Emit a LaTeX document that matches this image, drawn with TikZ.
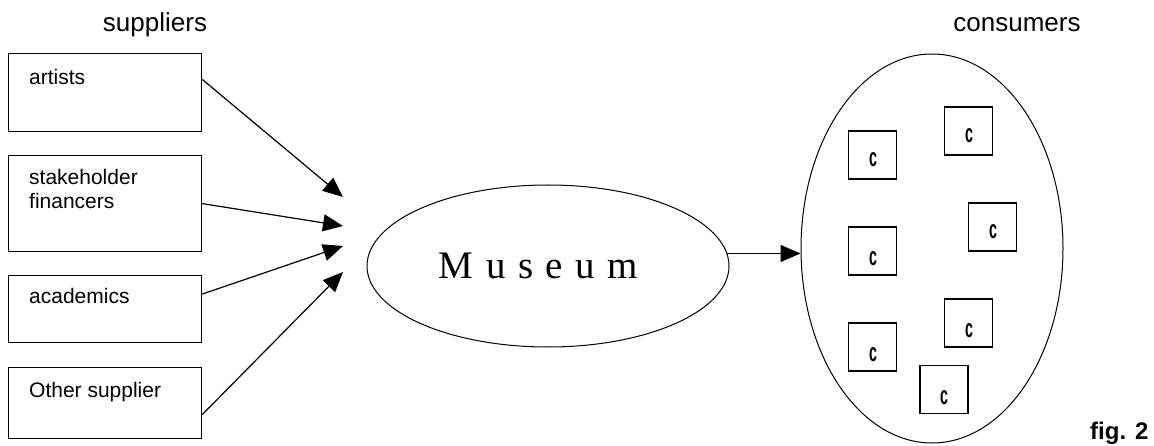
\documentclass[tikz,border=0pt]{standalone}
\usepackage{fontspec}
\setmainfont{Liberation Serif}
\setsansfont{Liberation Sans}
\usetikzlibrary{shapes.geometric,arrows.meta,calc}
\tikzset{
  supbox/.style={draw, rectangle, line width=1.2pt, minimum width=193pt,
    inner sep=0pt, anchor=north west},
  suptext/.style={anchor=base west, inner sep=0pt,
    font=\sffamily\fontsize{21}{24}\selectfont},
  heading/.style={anchor=base, inner sep=0pt,
    font=\sffamily\fontsize{26}{30}\selectfont},
  feed/.style={line width=1.2pt, -{Triangle[length=20pt,width=17pt]}},
  oval/.style={draw, ellipse, line width=1pt, inner sep=0pt},
  cbox/.style={draw, rectangle, line width=1.2pt, minimum size=48pt, inner sep=0pt},
  cmark/.style={inner sep=0pt, font=\sffamily\bfseries\fontsize{26}{26}\selectfont},
}
\newcommand{\cglyph}{\scalebox{0.55}[1]{c}}
\begin{document}
\begin{tikzpicture}[x=1pt, y=-1pt]
  \useasboundingbox (0,0) rectangle (1154,446);

  % column headings
  \node[heading] (hsup) at (155,32) {suppliers};
  \node[heading] (hcon) at (1017,32) {consumers};

  % supplier boxes
  \node[supbox, minimum height=78pt] (art) at (8,53) {};
  \node[supbox, minimum height=96pt] (fin) at (8,155) {};
  \node[supbox, minimum height=67pt] (aca) at (8,275) {};
  \node[supbox, minimum height=71pt] (oth) at (8,367) {};

  \node[suptext] (tart) at (29,85) {artists};
  \node[suptext] (tfin1) at (29,185) {stakeholder};
  \node[suptext] (tfin2) at (29,209) {financers};
  \node[suptext] (taca) at (29,304) {academics};
  \node[suptext] (toth) at (29,397) {Other supplier};

  % museum
  \node[oval, minimum width=362pt, minimum height=162pt] (museum) at (548,266) {};
  \node[inner sep=0pt, anchor=base] (museumtext) at (538.5,279)
    {\fontsize{39}{40}\selectfont\spaceskip=12.6pt M u s e u m};

  % consumers
  \node[oval, minimum width=262pt, minimum height=389pt] (cons) at (932,248.5) {};

  % arrows from suppliers
  \coordinate (t1) at (343,197);
  \coordinate (t2) at (343,226);
  \coordinate (t3) at (343,246);
  \coordinate (t4) at (343,272);
  \draw[feed] ($(art.north east)!0.333!(art.south east)$) -- (t1);
  \draw[feed] (fin.east) -- (t2);
  \draw[feed] ($(aca.north east)!0.28!(aca.south east)$) -- (t3);
  \draw[feed] ($(oth.north east)!0.66!(oth.south east)$) -- (t4);

  % museum to consumers
  \draw[feed] (museum.4.8) -- (museum.4.8 -| cons.west);

  % individual consumers
  \node[cbox] (c1) at (872.5,155) {};
  \node[cbox] (c2) at (968.5,131) {};
  \node[cbox] (c3) at (872.5,251) {};
  \node[cbox] (c4) at (992.5,227) {};
  \node[cbox] (c5) at (872.5,347) {};
  \node[cbox] (c6) at (968.5,323) {};
  \node[cbox] (c7) at (944,389.5) {};
  \node[cmark] (m1) at (873,160) {\cglyph};
  \node[cmark] (m2) at (969,136) {\cglyph};
  \node[cmark] (m3) at (873,259) {\cglyph};
  \node[cmark] (m4) at (993,232) {\cglyph};
  \node[cmark] (m5) at (873,355) {\cglyph};
  \node[cmark] (m6) at (969,331) {\cglyph};
  \node[cmark] (m7) at (944,398) {\cglyph};

  % caption
  \node[anchor=base west, inner sep=0pt, font=\sffamily\bfseries\fontsize{24}{24}\selectfont]
    (fig) at (1090,439) {fig. 2};
\end{tikzpicture}
\end{document}
